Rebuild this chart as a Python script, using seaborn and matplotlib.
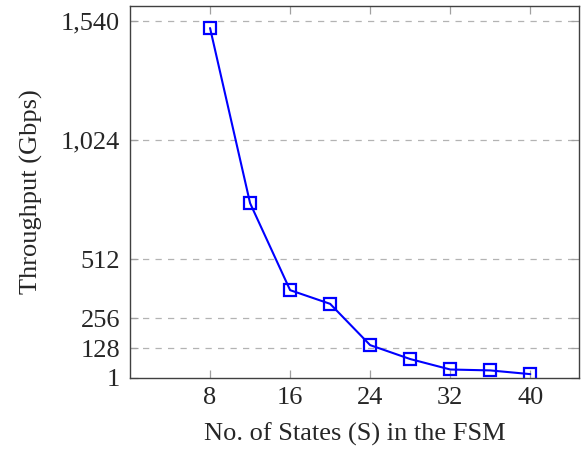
import matplotlib
matplotlib.use("Agg")
import matplotlib.pyplot as plt
import seaborn as sns
import pandas as pd

states = [8, 12, 16, 20, 24, 28, 32, 36, 40]
throughput = [1508, 753, 378, 319, 141, 81, 36, 32, 16]
y_ticks = [1, 128, 256, 512, 1024, 1540]
y_tick_labels = ["1", "128", "256", "512", "1,024", "1,540"]
x_ticks = [8, 16, 24, 32, 40]

sns.set_theme(style="white")
plt.rcParams['font.family'] = ['Liberation Serif', 'DejaVu Serif']

df = pd.DataFrame({"S": states, "T": throughput})

fig = plt.figure(figsize=(5.84, 4.49), dpi=100)
ax = fig.add_axes([0.2226, 0.159, 0.7694, 0.8276])

sns.lineplot(data=df, x="S", y="T", ax=ax, color="#0000ff", linewidth=1.5,
             marker="s", markersize=8, markerfacecolor="none",
             markeredgecolor="#0000ff", markeredgewidth=1.6)

ax.set_xlim(0, 44.9)
ax.set_ylim(1, 1603)
ax.set_xticks(x_ticks)
ax.set_xticklabels([str(v) for v in x_ticks])
ax.set_yticks(y_ticks)
ax.set_yticklabels(y_tick_labels)

for yv in y_ticks[1:]:
    ax.axhline(yv, color="#b3b3b3", linestyle=(0, (5, 5)), linewidth=0.9, zorder=0)

ax.tick_params(axis="both", direction="in", length=6, width=0.9, color="#a0a0a0",
               labelsize=19, top=True, right=True, bottom=True, left=True,
               labeltop=False, labelright=False, pad=7)
for s in ax.spines.values():
    s.set_color("#404040")
    s.set_linewidth(1.0)

ax.set_xlabel("No. of States (S) in the FSM", fontsize=19, labelpad=9.5)
ax.set_ylabel("Throughput (Gbps)", fontsize=19, labelpad=13)

fig.savefig("out.png", dpi=100)
